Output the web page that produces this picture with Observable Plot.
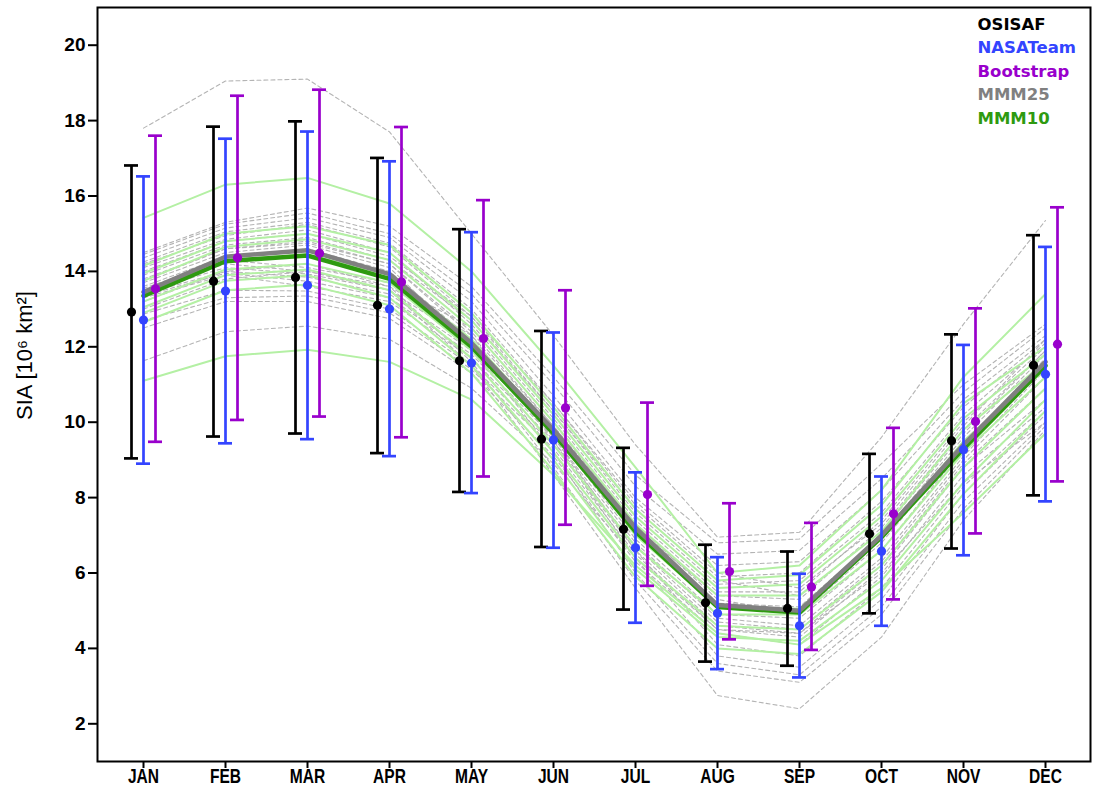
<!DOCTYPE html>
<html>
<head>
<meta charset="utf-8">
<script src="https://cdn.jsdelivr.net/npm/d3@7"></script>
<script src="https://cdn.jsdelivr.net/npm/@observablehq/plot@0.6"></script>
<style>
  body { margin: 0; background: #fff; }
  svg { background: #fff; }
  g[aria-label="y-axis tick label"] { font-family: "Liberation Sans", Arial, sans-serif; font-weight: bold; }
  g[aria-label="x-axis tick label"] { font-family: "Liberation Sans Narrow", "Liberation Sans", Arial, sans-serif; font-weight: bold; }
</style>
</head>
<body>
<script>
// ---------------- data ----------------
const months = ["JAN","FEB","MAR","APR","MAY","JUN","JUL","AUG","SEP","OCT","NOV","DEC"];
const yTicks = [2,4,6,8,10,12,14,16,18,20];

const osisafMean = [12.92, 13.74, 13.84, 13.10, 11.63, 9.55, 7.16, 5.21, 5.06, 7.04, 9.51, 11.51];
const osisafHi   = [16.81, 17.84, 17.98, 17.01, 15.12, 12.42, 9.32, 6.75, 6.57, 9.16, 12.33, 14.96];
const osisafLo   = [9.04, 9.62, 9.70, 9.18, 8.15, 6.69, 5.03, 3.65, 3.54, 4.93, 6.65, 8.06];

const nasaMean = [12.71, 13.48, 13.63, 13.00, 11.57, 9.53, 6.67, 4.93, 4.60, 6.58, 9.27, 11.27];
const nasaHi   = [16.52, 17.52, 17.71, 16.92, 15.04, 12.38, 8.67, 6.42, 5.98, 8.56, 12.05, 14.65];
const nasaLo   = [8.90, 9.44, 9.55, 9.10, 8.12, 6.67, 4.68, 3.45, 3.23, 4.60, 6.47, 7.90];

const bootMean = [13.54, 14.36, 14.48, 13.72, 12.22, 10.38, 8.08, 6.04, 5.63, 7.57, 10.02, 12.07];
const bootHi   = [17.60, 18.66, 18.82, 17.83, 15.89, 13.50, 10.52, 7.85, 7.33, 9.85, 13.02, 15.70];
const bootLo   = [9.48, 10.06, 10.15, 9.60, 8.56, 7.28, 5.66, 4.24, 3.96, 5.30, 7.05, 8.43];

const mmm25 = [13.45, 14.39, 14.56, 13.93, 12.10, 9.80, 7.20, 5.15, 5.00, 7.00, 9.40, 11.60];
const mmm10 = [13.35, 14.27, 14.42, 13.80, 12.00, 9.70, 7.10, 5.10, 4.95, 6.95, 9.30, 11.50];

// individual models of the 25-model ensemble (dashed grey)
const members25 = [
  [17.80, 19.05, 19.10, 17.70, 15.00, 12.30, 9.40, 6.95, 7.08, 9.60, 12.60, 15.35],
  [14.50, 15.30, 15.68, 15.20, 13.60, 11.20, 8.60, 6.80, 6.90, 8.90, 11.00, 12.60],
  [14.45, 15.25, 15.55, 15.00, 13.40, 11.00, 8.30, 6.50, 6.60, 8.50, 10.80, 12.50],
  [14.36, 15.15, 15.42, 14.90, 13.20, 10.70, 8.00, 6.20, 6.30, 8.20, 10.60, 12.30],
  [14.25, 15.05, 15.30, 14.75, 13.00, 10.50, 7.80, 5.90, 6.00, 7.90, 10.40, 12.20],
  [14.20, 14.95, 15.25, 14.65, 12.80, 10.30, 7.60, 5.70, 5.80, 7.60, 10.20, 12.10],
  [14.10, 14.85, 15.10, 14.50, 12.60, 10.10, 7.40, 5.50, 5.50, 7.40, 10.00, 12.00],
  [13.55, 14.30, 14.10, 13.70, 12.50, 10.00, 7.20, 5.40, 5.30, 7.20, 9.80, 11.90],
  [13.50, 14.20, 14.00, 13.60, 12.30, 9.90, 7.10, 5.20, 5.10, 7.00, 9.60, 11.80],
  [13.45, 14.10, 13.93, 13.50, 12.10, 9.80, 7.00, 5.10, 4.90, 6.80, 9.40, 11.70],
  [13.40, 14.00, 13.85, 13.40, 11.90, 9.70, 6.90, 4.90, 4.80, 6.60, 9.30, 11.60],
  [13.35, 13.95, 13.74, 13.30, 11.80, 9.60, 6.80, 4.80, 4.60, 6.40, 9.10, 11.40],
  [13.30, 13.90, 13.60, 13.20, 11.70, 9.50, 6.70, 4.70, 4.50, 6.30, 9.00, 11.20],
  [12.87, 13.50, 13.48, 13.00, 11.50, 9.40, 6.60, 4.60, 4.40, 6.20, 8.90, 10.90],
  [12.70, 13.30, 13.35, 12.90, 11.40, 9.30, 6.50, 4.50, 4.30, 6.10, 8.80, 10.60],
  [12.50, 13.20, 13.20, 12.75, 11.30, 9.10, 6.30, 4.40, 4.10, 5.90, 8.60, 10.40],
  [11.63, 12.40, 12.55, 12.20, 10.90, 8.90, 6.40, 4.50, 4.40, 6.00, 8.40, 10.00],
  [13.60, 14.40, 14.60, 14.00, 12.20, 9.60, 6.60, 4.10, 3.80, 5.60, 8.30, 10.30],
  [13.80, 14.60, 14.80, 14.20, 12.30, 9.50, 6.40, 3.80, 3.50, 5.30, 8.10, 10.20],
  [13.70, 14.50, 14.70, 14.10, 12.00, 9.20, 6.00, 3.60, 3.30, 5.10, 7.90, 10.00],
  [13.20, 14.00, 14.20, 13.60, 11.60, 8.80, 5.80, 3.40, 3.10, 4.90, 7.70, 9.90],
  [13.00, 13.80, 14.00, 13.50, 11.50, 8.60, 5.60, 2.75, 2.40, 4.30, 7.40, 9.80],
  [14.00, 14.80, 15.00, 14.40, 12.80, 10.50, 7.90, 6.00, 5.60, 7.30, 9.90, 12.20],
  [13.90, 14.70, 14.90, 14.30, 12.70, 10.30, 7.70, 5.80, 5.40, 7.10, 9.70, 11.90],
  [13.75, 14.60, 14.75, 14.20, 12.40, 9.90, 7.30, 5.30, 4.90, 6.90, 9.50, 11.50]
];

// individual models of the 10-model ensemble (light green)
const members10 = [
  [15.42, 16.30, 16.48, 15.80, 14.00, 11.50, 8.80, 6.00, 6.20, 8.20, 11.20, 13.40],
  [14.15, 15.00, 15.20, 14.70, 12.90, 10.40, 7.70, 5.80, 5.95, 7.80, 10.50, 12.00],
  [13.95, 14.80, 15.00, 14.50, 12.70, 10.20, 7.50, 5.60, 5.70, 7.50, 10.10, 11.80],
  [13.75, 14.65, 14.85, 14.30, 12.50, 10.00, 7.30, 5.40, 5.40, 7.10, 9.80, 11.60],
  [13.20, 14.05, 14.20, 13.70, 11.90, 9.40, 6.70, 4.90, 4.90, 6.60, 9.20, 11.20],
  [13.05, 13.90, 14.05, 13.50, 11.70, 9.20, 6.40, 4.60, 4.50, 6.20, 8.80, 10.90],
  [12.90, 13.75, 13.90, 13.30, 11.50, 9.00, 6.10, 4.30, 4.20, 5.80, 8.40, 10.60],
  [12.65, 13.50, 13.65, 13.10, 11.30, 8.70, 5.90, 4.00, 3.85, 5.50, 8.10, 10.30],
  [11.10, 11.75, 11.92, 11.60, 10.60, 8.60, 6.20, 4.40, 4.10, 5.60, 7.60, 9.70],
  [13.45, 14.30, 14.45, 13.90, 12.20, 9.80, 7.00, 5.10, 5.05, 6.90, 9.50, 11.40]
];

const legendNames  = ["OSISAF", "NASATeam", "Bootstrap", "MMM25", "MMM10"];
const legendColors = ["#000000", "#3344ff", "#9900cc", "#808080", "#2e9a10"];

// ---------------- tables ----------------
const longMembers = (arr, tag) => arr.flatMap((vals, k) => vals.map((v, i) => ({id: tag + k, m: months[i], v})));
const mem25 = longMembers(members25, "a");
const mem10 = longMembers(members10, "b");
const meanRows = (vals) => months.map((m, i) => ({m, v: vals[i]}));
const barRows = (mean, hi, lo) => months.map((m, i) => ({m, mean: mean[i], hi: hi[i], lo: lo[i]}));

function errorBars(rows, color, dx) {
  const sw = 2.7;
  return [
    Plot.ruleX(rows, {x: "m", y1: "lo", y2: "hi", stroke: color, strokeWidth: sw, dx}),
    Plot.ruleY(rows, {x1: "m", x2: "m", y: "hi", stroke: color, strokeWidth: sw, dx, insetLeft: -7, insetRight: -7}),
    Plot.ruleY(rows, {x1: "m", x2: "m", y: "lo", stroke: color, strokeWidth: sw, dx, insetLeft: -7, insetRight: -7}),
    Plot.dot(rows, {x: "m", y: "mean", r: 4.6, fill: color, stroke: "none", dx})
  ];
}

const legendMarks = legendNames.map((name, i) => Plot.text([name], {
  frameAnchor: "top-right", textAnchor: "start", lineAnchor: "bottom",
  dx: -113, dy: 22 + i * 23.6,
  fill: legendColors[i], fontSize: 16.5, fontWeight: "bold",
  fontFamily: "DejaVu Sans, sans-serif", ariaLabel: "legend"
}));

const svg = Plot.plot({
  width: 1093,
  height: 791,
  marginLeft: 97,
  marginRight: 3,
  marginTop: 7,
  marginBottom: 30,
  style: {fontFamily: "Liberation Sans, Arial, sans-serif", color: "#000", background: "#fff"},
  x: {type: "point", domain: months, padding: 0.5, label: null},
  y: {domain: [1, 21], label: null},
  marks: [
    Plot.line(mem25, {x: "m", y: "v", z: "id", stroke: "#b4b4b4", strokeWidth: 1.1, strokeDasharray: "4,3"}),
    Plot.line(mem10, {x: "m", y: "v", z: "id", stroke: "#b4f0a4", strokeWidth: 2}),
    Plot.line(meanRows(mmm10), {x: "m", y: "v", stroke: "#2e9a10", strokeWidth: 4.5}),
    Plot.line(meanRows(mmm25), {x: "m", y: "v", stroke: "#808080", strokeWidth: 4.5}),
    ...errorBars(barRows(osisafMean, osisafHi, osisafLo), "#000000", -12),
    ...errorBars(barRows(nasaMean, nasaHi, nasaLo), "#3344ff", 0),
    ...errorBars(barRows(bootMean, bootHi, bootLo), "#9900cc", 12),
    Plot.axisY({ticks: yTicks, tickSize: 9, tickPadding: 3, fontSize: 19, strokeWidth: 2, label: null}),
    Plot.axisX({tickSize: 7, tickPadding: 0, fontSize: 21, strokeWidth: 2, label: null}),
    Plot.frame({stroke: "#000", strokeWidth: 2}),
    ...legendMarks,
    Plot.text(["SIA [10⁶ km²]"], {
      frameAnchor: "left", rotate: -90, textAnchor: "middle", lineAnchor: "bottom",
      dx: -66, dy: -29, fontSize: 22, fill: "#000", ariaLabel: "y-label"
    })
  ]
});
document.body.append(svg);

// font shaping: condensed month labels, wide legend lettering
d3.select(svg).selectAll('g[aria-label="x-axis tick label"] text').each(function () {
  const w = this.getComputedTextLength();
  this.setAttribute("textLength", w * 0.74);
  this.setAttribute("lengthAdjust", "spacingAndGlyphs");
});
d3.select(svg).selectAll('g[aria-label="legend"] text').each(function () {
  const w = this.getComputedTextLength();
  this.setAttribute("textLength", w * 1.1);
  this.setAttribute("lengthAdjust", "spacingAndGlyphs");
});
</script>
</body>
</html>
